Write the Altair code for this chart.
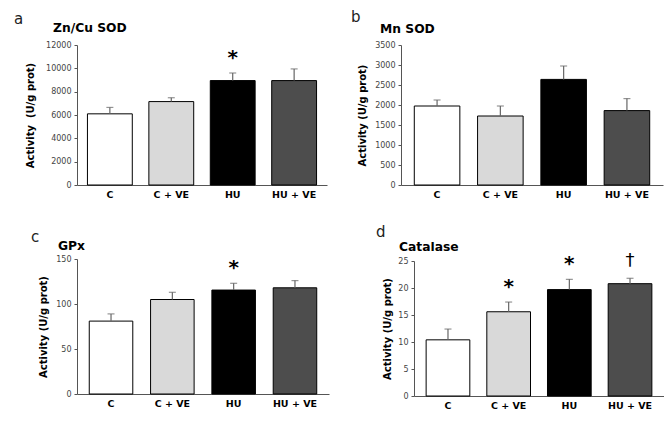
import altair as alt
import pandas as pd

groups = ["C", "C + VE", "HU", "HU + VE"]
fills = ["#ffffff", "#d9d9d9", "#000000", "#4d4d4d"]

zncu_mean = [6100, 7150, 8950, 8950]
zncu_upper = [6650, 7480, 9600, 9950]
zncu_star = ["", "", "*", ""]
zncu_dagger = ["", "", "", ""]

mnsod_mean = [1975, 1725, 2640, 1860]
mnsod_upper = [2125, 1975, 2975, 2160]
mnsod_star = ["", "", "", ""]
mnsod_dagger = ["", "", "", ""]

gpx_mean = [81, 105, 115.5, 118]
gpx_upper = [89, 113, 123, 126]
gpx_star = ["", "", "*", ""]
gpx_dagger = ["", "", "", ""]

cat_mean = [10.4, 15.6, 19.7, 20.8]
cat_upper = [12.4, 17.4, 21.6, 21.8]
cat_star = ["", "*", "*", ""]
cat_dagger = ["", "", "", "\u2020"]

FONT = "DejaVu Sans"


def panel(letter, title, mean, upper, star, dagger, ymax, step, w, h, origin,
          letter_xy, title_xy, tl, br, ytitle, title_pad, pi, po):
    ox, oy = origin
    df = pd.DataFrame({"group": groups, "mean": mean, "upper": upper,
                       "star": star, "dagger": dagger, "fill": fills})
    xscale = alt.Scale(paddingInner=pi, paddingOuter=po)
    xaxis = alt.Axis(title=None, labelAngle=0, ticks=False,
                     labelFontWeight="bold", labelFontSize=9.5,
                     labelColor="black", domainColor="#555",
                     labelPadding=4, labelFont=FONT)
    x = alt.X("group:N", sort=groups, scale=xscale, axis=xaxis)
    yvals = list(range(0, ymax + 1, step))
    yscale = alt.Scale(domain=[0, ymax], nice=False)
    yaxis = alt.Axis(values=yvals, format="d", labelOverlap=False,
                     title=ytitle, grid=False, tickSize=3,
                     labelFontSize=8, labelColor="#444",
                     labelFont=FONT, domainColor="#555",
                     tickColor="#555", titleFontSize=10,
                     titleFontWeight="bold", titleColor="black",
                     titleFont=FONT, titlePadding=title_pad,
                     labelPadding=3)
    ym = alt.Y("mean:Q", scale=yscale, axis=yaxis, title=ytitle)
    yu = alt.Y("upper:Q", scale=yscale, axis=yaxis, title=ytitle)
    base = alt.Chart(df)
    bars = base.mark_bar(stroke="black", strokeWidth=1).encode(
        x=x, y=ym, fill=alt.Fill("fill:N", scale=None))
    err = base.mark_rule(color="#666", strokeWidth=1.2).encode(
        x=x, y=ym, y2="upper:Q")
    cap = base.mark_tick(color="#666", size=7, thickness=1.2).encode(
        x=x, y=yu)
    sig = base.mark_text(fontSize=20, fontWeight="bold", dy=-15,
                         font=FONT, color="black").encode(
        x=x, y=yu, text="star:N")
    dag = base.mark_text(fontSize=18, fontWeight="normal", dy=-17,
                         font=FONT, color="black").encode(
        x=x, y=yu, text="dagger:N")

    tdf = pd.DataFrame({"t": [letter]})
    let = alt.Chart(tdf).mark_text(fontSize=15, align="left",
                                   baseline="middle", font=FONT,
                                   color="#222").encode(
        x=alt.value(letter_xy[0] - ox), y=alt.value(letter_xy[1] - oy),
        text="t:N")
    ndf = pd.DataFrame({"t": [title]})
    ttl = alt.Chart(ndf).mark_text(fontSize=12.3, fontWeight="bold",
                                   align="left", baseline="middle",
                                   font=FONT, color="black").encode(
        x=alt.value(title_xy[0] - ox), y=alt.value(title_xy[1] - oy),
        text="t:N")
    mdf = pd.DataFrame({"t": ["."]})
    m1 = alt.Chart(mdf).mark_text(fontSize=1, opacity=0, align="left",
                                  baseline="top").encode(
        x=alt.value(tl[0] - ox), y=alt.value(tl[1] - oy), text="t:N")
    m2 = alt.Chart(mdf).mark_text(fontSize=1, opacity=0, align="left",
                                  baseline="top").encode(
        x=alt.value(br[0] - ox), y=alt.value(br[1] - oy), text="t:N")
    return alt.layer(bars, err, cap, sig, dag, let, ttl, m1, m2).properties(
        width=w, height=h)


pa = panel("a", "Zn/Cu SOD", zncu_mean, zncu_upper, zncu_star, zncu_dagger,
           12000, 2000, 250, 140, (77, 45), (14, 19), (53, 28), (8, 8),
           (100, 205), "Activity\u00a0\u00a0(U/g prot)", 10, 0.27, 0.17)
pb = panel("b", "Mn SOD", mnsod_mean, mnsod_upper, mnsod_star, mnsod_dagger,
           3500, 500, 262, 140, (399, 44), (349, 15.5), (378, 28), (335, 8),
           (420, 205), "Activity (U/g prot)", 7, 0.28, 0.21)
pc = panel("c", "GPx", gpx_mean, gpx_upper, gpx_star, gpx_dagger,
           150, 50, 252, 135, (73, 258), (27, 236), (54, 245), (8, 215),
           (100, 300), "Activity (U/g prot)", 7, 0.29, 0.2)
pd_ = panel("d", "Catalase", cat_mean, cat_upper, cat_star, cat_dagger,
            25, 5, 250, 135, (410, 260), (372, 231), (395, 245.5), (333, 215),
            (420, 300), "Activity (U/g prot)", 5, 0.28, 0.2)

chart = alt.concat(
    pa, pb, pc, pd_, columns=2, align="none",
    spacing={"row": 9, "column": 8},
).properties(padding=0).configure_view(stroke=None).configure_axis(
    labelOverlap=False)

chart.save("out.html", embed_options={"renderer": "svg", "actions": False})
